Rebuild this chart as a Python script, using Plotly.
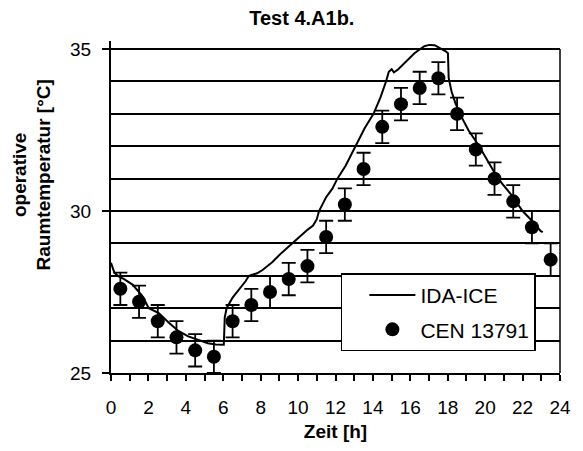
import plotly.graph_objects as go

# IDA-ICE simulation curve (hour, temperature)
ida_hours = [0.0, 0.18, 0.36, 0.7, 1.15, 1.67, 2.02, 2.55, 3.08, 3.6, 4.13, 4.65, 5.18, 5.6, 5.97,
             6.03, 6.08, 6.18, 6.5, 6.86, 7.2, 7.37, 7.81, 8.1, 8.63, 9.1, 9.67, 10.05, 10.5, 10.8,
             11.0, 11.12, 11.49, 11.84, 12.1, 12.54, 13.06, 13.55, 14.03, 14.4, 14.7, 14.85, 15.0,
             15.12, 15.34, 15.78, 16.22, 16.75, 17.01, 17.3, 17.62, 17.89, 18.01, 18.05, 18.2,
             18.4, 18.65, 19.1, 19.68, 20.2, 20.69, 21.4, 22.0, 22.5, 22.97, 23.08]
ida_temp = [28.4, 28.1, 28.0, 27.9, 27.73, 27.38, 27.0, 26.85, 26.56, 26.3, 26.13, 26.02, 25.92, 25.88, 25.87,
            25.87, 26.72, 27.0, 27.33, 27.58, 27.84, 28.0, 28.08, 28.18, 28.43, 28.7, 29.0, 29.2, 29.42, 29.55,
            29.75, 30.0, 30.42, 30.7, 31.0, 31.4, 32.0, 32.55, 33.0, 33.5, 34.0, 34.3, 34.38,
            34.28, 34.37, 34.61, 34.87, 35.09, 35.13, 35.12, 35.03, 34.93, 34.87, 34.1, 33.7,
            33.35, 33.0, 32.5, 32.0, 31.5, 31.0, 30.5, 30.0, 29.7, 29.38, 29.35]

# CEN 13791 hourly values with error
cen_hours = [0.5, 1.5, 2.5, 3.5, 4.5, 5.5, 6.5, 7.5, 8.5, 9.5, 10.5, 11.5,
             12.5, 13.5, 14.5, 15.5, 16.5, 17.5, 18.5, 19.5, 20.5, 21.5, 22.5, 23.5]
cen_temp = [27.6, 27.2, 26.6, 26.1, 25.7, 25.5, 26.6, 27.1, 27.5, 27.9, 28.3, 29.2,
            30.2, 31.3, 32.6, 33.3, 33.8, 34.1, 33.0, 31.9, 31.0, 30.3, 29.5, 28.5]
cen_err = [0.5] * 24

x_ticks = list(range(0, 25, 2))
y_ticks = [25, 30, 35]

FONT = "Liberation Sans, Arial, sans-serif"

fig = go.Figure()
fig.add_trace(go.Scatter(
    x=ida_hours, y=ida_temp, mode="lines", name="IDA-ICE",
    line=dict(color="black", width=2), legendgroup="a"))
fig.add_trace(go.Scatter(
    x=cen_hours, y=cen_temp, mode="markers", name="CEN 13791",
    marker=dict(color="black", size=14, symbol="circle"),
    error_y=dict(type="data", array=cen_err, color="black", thickness=1.8, width=7),
    legendgroup="b"))

# right border of plot area
fig.add_shape(type="line", xref="paper", x0=1, x1=1, yref="y", y0=y_ticks[0], y1=y_ticks[-1],
              line=dict(color="black", width=1.5))

# y axis title (two lines, placed like the original)
fig.add_annotation(text="<b>operative<br>Raumtemperatur [°C]</b>", textangle=-90,
                   xref="paper", x=0, xanchor="center", xshift=-79,
                   yref="paper", y=0.595, yanchor="middle", showarrow=False,
                   font=dict(family=FONT, size=19, color="black"))

# page body has an 8px margin: size the figure so the plot lands where it should
fig.update_layout(
    width=575, height=443,
    margin=dict(l=103, r=15, t=33, b=77),
    paper_bgcolor="white", plot_bgcolor="white",
    font=dict(family=FONT, size=19, color="black"),
    title=dict(text="<b>Test 4.A1b.</b>", xref="container", x=0.511, xanchor="center",
               yref="container", y=0.977, yanchor="middle",
               font=dict(family=FONT, size=20, color="black")),
    showlegend=True,
    legend=dict(x=0.512, y=0.30, xanchor="left", yanchor="top",
                bgcolor="white", bordercolor="black", borderwidth=1.5,
                font=dict(family=FONT, size=21, color="black"),
                tracegroupgap=4, indentation=22, itemwidth=46),
    xaxis=dict(range=[0, 24], tickvals=x_ticks, ticktext=[str(v) for v in x_ticks],
               showgrid=False, zeroline=False, showline=True, linecolor="black", linewidth=2,
               ticks="outside", ticklen=6, tickwidth=1.5, tickcolor="black", ticklabelstandoff=10,
               minor=dict(dtick=1, ticks="outside", ticklen=6, tickwidth=1.5, tickcolor="black", showgrid=False),
               title=dict(text="<b>Zeit [h]</b>", font=dict(family=FONT, size=19), standoff=8)),
    yaxis=dict(range=[25, 35.25], tickvals=y_ticks, ticktext=[str(v) for v in y_ticks],
               showgrid=True, gridcolor="black", gridwidth=1.5, zeroline=False,
               showline=True, linecolor="black", linewidth=2,
               ticks="outside", ticklen=7, tickwidth=1.5, tickcolor="black", ticklabelstandoff=7,
               minor=dict(dtick=1, showgrid=True, gridcolor="black", gridwidth=1.5, ticks="")),
)

fig.write_html("out.html")
